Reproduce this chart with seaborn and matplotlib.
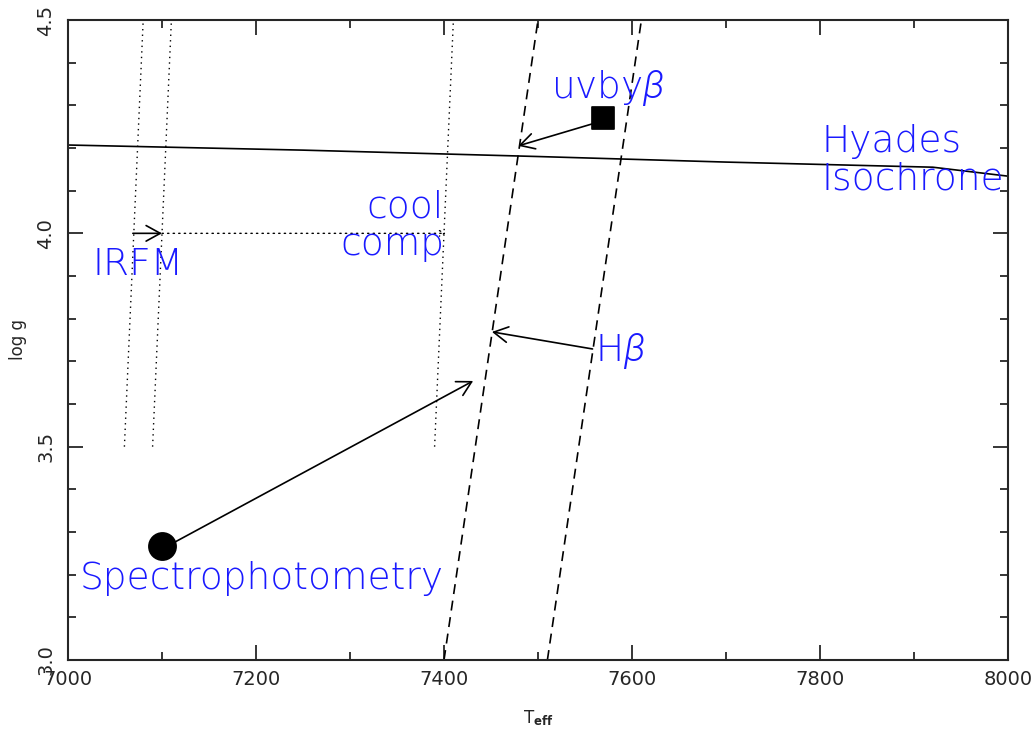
import numpy as np
import pandas as pd
import matplotlib
matplotlib.use("Agg")
import matplotlib.pyplot as plt
import seaborn as sns
from matplotlib.ticker import MultipleLocator
from matplotlib import font_manager as fm

# ---------------- data ----------------
iso_teff = [7000, 7250, 7500, 7700, 7920, 8000]
iso_logg = [4.207, 4.195, 4.180, 4.167, 4.155, 4.134]

irfm1_teff = [7060, 7080]
irfm1_logg = [3.50, 4.50]
irfm2_teff = [7090, 7110]
irfm2_logg = [3.50, 4.50]
cool_teff = [7390, 7410]
cool_logg = [3.50, 4.50]

hb1_teff = [7400, 7500]
hb1_logg = [3.0, 4.5]
hb2_teff = [7510, 7610]
hb2_logg = [3.0, 4.5]

circle_teff = [7100]
circle_logg = [3.267]
square_teff = [7569]
square_logg = [4.270]

# arrows: (tail_teff, tail_logg, head_teff, head_logg)
arrow_spec = [7110, 3.272, 7431, 3.654]
arrow_uvby = [7560, 4.258, 7479, 4.205]
arrow_hb = [7558, 3.729, 7451, 3.769]
arrow_irfm = [7069, 4.0, 7100, 4.0]
arrow_cool = [7100, 4.0, 7402, 4.0]

labels = ["uvby$\\beta$", "Hyades\nIsochrone", "cool\ncomp", "IRFM", "H$\\beta$", "Spectrophotometry"]
label_teff = [7514, 7802, 7400, 7026, 7561, 7012]
label_logg = [4.340, 4.172, 4.018, 3.928, 3.725, 3.192]
label_ha = ["left", "left", "right", "left", "left", "left"]

# ---------------- plot ----------------
sns.set_style("ticks")
plt.rcParams["font.family"] = ["DejaVu Sans"]
plt.rcParams["mathtext.fontset"] = "custom"
plt.rcParams["mathtext.rm"] = "DejaVu Sans:weight=200"
plt.rcParams["mathtext.it"] = "Roboto:italic:weight=300"
plt.rcParams["mathtext.bf"] = "DejaVu Sans:bold"
fig = plt.figure(figsize=(10.34, 7.36), dpi=100)
ax = fig.add_axes([68/1034, 1-660/736, 940/1034, 640/736])

lw = 1.2
sns.lineplot(x=iso_teff, y=iso_logg, ax=ax, color="black", lw=lw, sort=False)
for t, g in [(irfm1_teff, irfm1_logg), (irfm2_teff, irfm2_logg), (cool_teff, cool_logg)]:
    sns.lineplot(x=t, y=g, ax=ax, color="black", lw=1.0, linestyle=(0, (1, 3)), sort=False)
for t, g in [(hb1_teff, hb1_logg), (hb2_teff, hb2_logg)]:
    sns.lineplot(x=t, y=g, ax=ax, color="black", lw=lw, linestyle=(0, (6, 4)), sort=False)

sns.scatterplot(x=circle_teff, y=circle_logg, ax=ax, color="black", marker="o", s=370, edgecolor="black", zorder=5)
sns.scatterplot(x=square_teff, y=square_logg, ax=ax, color="black", marker="s", s=240, edgecolor="black", zorder=5)

aprops = dict(arrowstyle="->,head_length=0.6,head_width=0.33", lw=lw, color="black",
              mutation_scale=17, shrinkA=0, shrinkB=0)
for a in [arrow_spec, arrow_uvby, arrow_hb, arrow_irfm]:
    ax.annotate("", xy=(a[2], a[3]), xytext=(a[0], a[1]), arrowprops=aprops)
cprops = dict(aprops)
cprops.update(linestyle=(0, (1, 3)), lw=1.0, mutation_scale=6)
ax.annotate("", xy=(arrow_cool[2], arrow_cool[3]), xytext=(arrow_cool[0], arrow_cool[1]), arrowprops=cprops)

for txt, x, y, ha in zip(labels, label_teff, label_logg, label_ha):
    ax.text(x, y, txt, color="#1a1aff", fontsize=27, ha=ha, va="center",
            linespacing=1.1, fontweight=200)

ax.set_xlim(7000, 8000)
ax.set_ylim(3.0, 4.5)
ax.xaxis.set_major_locator(MultipleLocator(200))
ax.xaxis.set_minor_locator(MultipleLocator(100))
ax.yaxis.set_major_locator(MultipleLocator(0.5))
ax.yaxis.set_minor_locator(MultipleLocator(0.1))
ax.tick_params(which="both", direction="in", top=True, right=True, width=1.3, labelsize=14)
ax.tick_params(which="major", length=11)
ax.tick_params(which="minor", length=6)
ax.tick_params(axis="x", which="both", pad=7)
ax.tick_params(axis="y", which="both", pad=9)
for lab in ax.get_yticklabels():
    lab.set_rotation(90)
    lab.set_va("center")
ax.yaxis.set_major_formatter(matplotlib.ticker.FormatStrFormatter("%.1f"))
for s in ax.spines.values():
    s.set_linewidth(1.5)
ax.set_xlabel("T$_{\\mathbf{eff}}$", fontsize=12, labelpad=14)
ax.set_ylabel("log g", fontsize=12, labelpad=7)

fig.savefig("out.png", dpi=100)
